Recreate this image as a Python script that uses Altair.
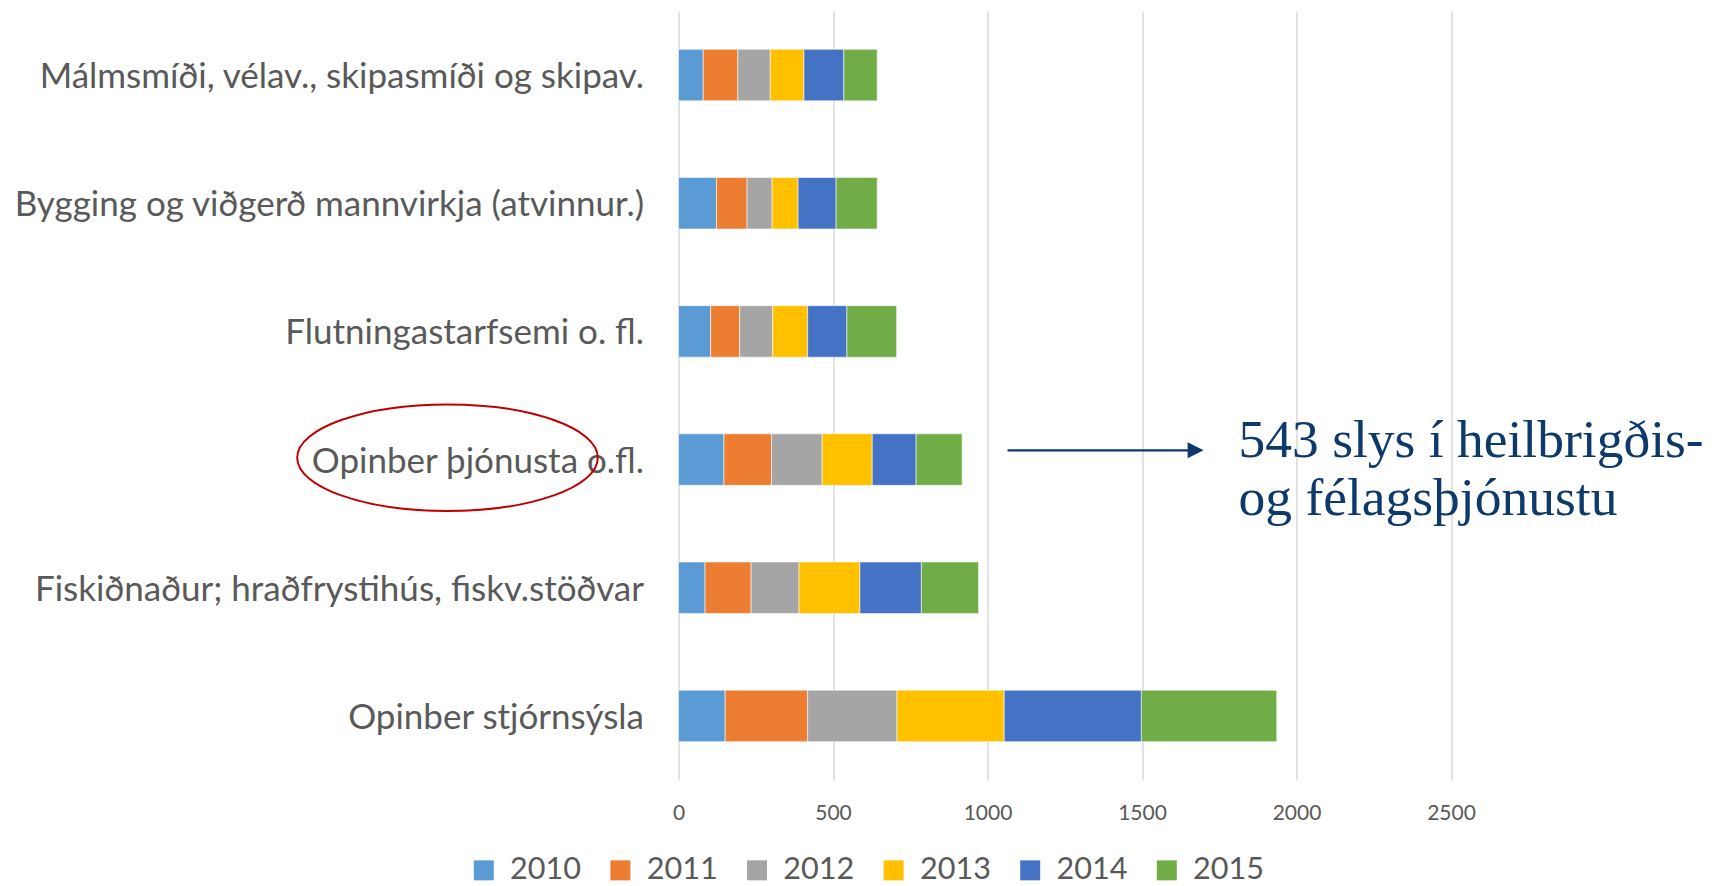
import altair as alt
import pandas as pd

categories = [
    "Málmsmíði, vélav., skipasmíði og skipav.",
    "Bygging og viðgerð mannvirkja (atvinnur.)",
    "Flutningastarfsemi o. fl.",
    "Opinber þjónusta o.fl.",
    "Fiskiðnaður; hraðfrystihús, fiskv.stöðvar",
    "Opinber stjórnsýsla",
]
years = ["2010", "2011", "2012", "2013", "2014", "2015"]
v2010 = [80, 123, 104, 147, 86, 151]
v2011 = [112, 99, 94, 154, 149, 267]
v2012 = [105, 81, 107, 164, 155, 289]
v2013 = [109, 84, 113, 162, 197, 347]
v2014 = [129, 123, 127, 142, 199, 444]
v2015 = [108, 133, 161, 149, 185, 438]
colors = ["#5B9BD5", "#ED7D31", "#A5A5A5", "#FFC000", "#4472C4", "#70AD47"]
x_ticks = [0, 500, 1000, 1500, 2000, 2500]
note_lines = ["543 slys í heilbrigðis-", "og félagsþjónustu"]

series = [v2010, v2011, v2012, v2013, v2014, v2015]
rows = []
for yr, vals in zip(years, series):
    for cat, v in zip(categories, vals):
        rows.append({"cat": cat, "year": yr, "value": v, "yi": int(yr)})
df = pd.DataFrame(rows)

GRAY = "#595959"
NAVY = "#0d3a6b"

bars = alt.Chart(df).mark_bar(stroke="#ffffff", strokeWidth=0.8, strokeOpacity=0.7).encode(
    y=alt.Y("cat:N", sort=categories, title=None,
            scale=alt.Scale(paddingInner=0.598, paddingOuter=0.299),
            axis=alt.Axis(labelFont="Lato", labelFontSize=35, labelColor=GRAY,
                          ticks=False, domain=False, labelPadding=35, labelLimit=1000,
                          labelOffset=2)),
    x=alt.X("value:Q", title=None, stack="zero",
            scale=alt.Scale(domain=[0, 2500], nice=False, zero=True),
            axis=alt.Axis(values=x_ticks, labelFont="Lato", labelFontSize=21, labelColor=GRAY,
                          ticks=False, domain=False, labelPadding=22, grid=True,
                          labelFlush=False,
                          gridColor="#d9d9d9", gridWidth=1.5, format="d")),
    color=alt.Color("year:N", sort=years,
                    scale=alt.Scale(domain=years, range=colors),
                    legend=alt.Legend(orient="none", legendX=-210, legendY=844,
                                      direction="horizontal", columns=6, title=None,
                                      symbolType="square", symbolSize=400,
                                      symbolStrokeWidth=0, labelFont="Lato",
                                      labelFontSize=30.6, labelColor=GRAY, labelOffset=11,
                                      columnPadding=23.6, padding=0)),
    order=alt.Order("yi:Q", sort="ascending"),
)

note_df = pd.DataFrame({"t": note_lines, "i": [0, 1]})
line1 = alt.Chart(note_df.iloc[[0]]).mark_text(
    font="Liberation Serif", fontSize=53.5, color=NAVY, align="left", baseline="alphabetic"
).encode(text="t:N", x=alt.value(560), y=alt.value(445.7))
line2 = alt.Chart(note_df.iloc[[1]]).mark_text(
    font="Liberation Serif", fontSize=53.5, color=NAVY, align="left", baseline="alphabetic"
).encode(text="t:N", x=alt.value(560), y=alt.value(504))

arrow_df = pd.DataFrame({"k": ["arrow"]})
arrow_line = alt.Chart(arrow_df).mark_rule(color=NAVY, strokeWidth=2.2).encode(
    x=alt.value(329), x2=alt.value(511.5), y=alt.value(439.3)
)
arrow_head = alt.Chart(arrow_df).mark_point(
    shape="M -1 -1 L 1 0 L -1 1 Z", filled=True, color=NAVY, size=256, opacity=1
).encode(x=alt.value(517.1), y=alt.value(439.3))

ellipse_path = ("M -1 0 C -1 -0.1958 -0.5523 -0.3546 0 -0.3546 "
                "C 0.5523 -0.3546 1 -0.1958 1 0 "
                "C 1 0.1958 0.5523 0.3546 0 0.3546 "
                "C -0.5523 0.3546 -1 0.1958 -1 0 Z")
ellipse = alt.Chart(arrow_df).mark_point(
    shape=ellipse_path, filled=False, stroke="#c00000", strokeWidth=2, size=90360, opacity=1
).encode(x=alt.value(-231), y=alt.value(446.7))

chart = alt.layer(bars, line1, line2, arrow_line, arrow_head, ellipse).properties(
    width=772.5, height=769,
    autosize=alt.AutoSizeParams(type="none"),
    padding={"left": 670.5, "top": 3, "right": 255, "bottom": 106},
    background="#ffffff",
).configure_view(stroke=None)

chart.save("out.html", embed_options={"renderer": "svg", "actions": False})
